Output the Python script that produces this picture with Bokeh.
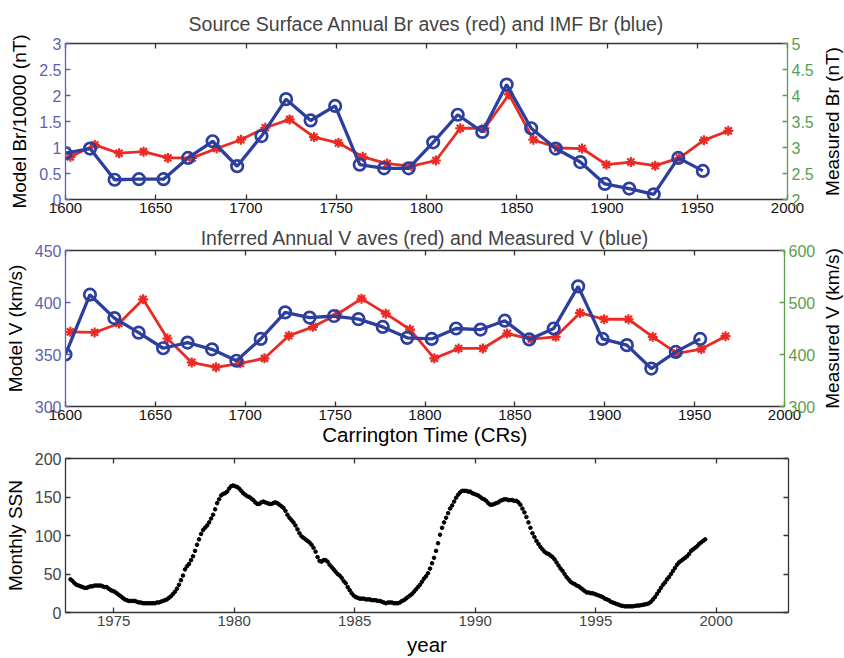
import math
from bokeh.plotting import figure
from bokeh.models import Range1d, LinearAxis, FixedTicker, CustomJSTickFormatter
from bokeh.layouts import column, row
from bokeh.embed import file_html
from bokeh.resources import INLINE

# ---------------- data ----------------
# Carrington rotation of each annual average
cr_model = [1602.7, 1616.2, 1629.7, 1643.2, 1656.7, 1670.2, 1683.7, 1697.2, 1710.7, 1724.2,
            1737.7, 1751.2, 1764.7, 1778.2, 1791.7, 1805.2, 1818.7, 1832.2, 1845.7, 1859.2,
            1872.7, 1886.2, 1899.7, 1913.2, 1926.7, 1940.2, 1953.7, 1967.2]
cr_meas = [1600.0, 1613.6, 1627.2, 1640.7, 1654.3, 1667.9, 1681.5, 1695.1, 1708.6, 1722.2,
           1735.8, 1749.4, 1763.0, 1776.5, 1790.1, 1803.7, 1817.3, 1830.9, 1844.4, 1858.0,
           1871.6, 1885.2, 1898.8, 1912.3, 1925.9, 1939.5, 1953.1]

# Model source-surface Br / 10000 (nT)  (red)
br_model = [0.82, 1.05, 0.89, 0.92, 0.80, 0.80, 0.98, 1.15, 1.38, 1.54,
            1.20, 1.09, 0.82, 0.69, 0.64, 0.75, 1.37, 1.37, 2.02, 1.15,
            0.99, 0.98, 0.67, 0.72, 0.65, 0.80, 1.14, 1.32]
# Measured IMF Br (nT)  (blue)
br_meas = [2.89, 2.98, 2.38, 2.39, 2.39, 2.80, 3.12, 2.64, 3.22, 3.93,
           3.52, 3.80, 2.67, 2.60, 2.60, 3.10, 3.63, 3.30, 4.21, 3.37,
           2.98, 2.72, 2.30, 2.21, 2.10, 2.80, 2.55]

# Inferred V (km/s)  (red)
v_model = [371.8, 371.2, 379.8, 403.1, 365.4, 342.4, 337.7, 341.5, 346.3, 368.0,
           376.6, 388.7, 403.7, 389.3, 374.0, 346.3, 355.8, 355.8, 370.2, 364.8,
           367.0, 390.0, 383.9, 383.9, 367.0, 351.1, 355.2, 367.6]
# Measured V (km/s)  (blue)
v_meas = [400, 515, 470, 442, 412, 423, 410, 388, 430, 481,
          471, 474, 468, 453, 432, 430, 450, 448, 465, 429,
          450, 531, 430, 418, 373, 405, 430]

# Monthly (smoothed) sunspot number, March 1973 .. July 1999
ssn_first_month = 1973 + 2 / 12
ssn_1973 = [43, 41, 38, 36, 35, 34, 33, 32, 32, 33]
ssn_1974 = [34, 34, 35, 35, 35, 35, 34, 33, 33, 31, 29, 28]
ssn_1975 = [27, 25, 23, 21, 19, 17, 16, 15, 15, 15, 15, 14]
ssn_1976 = [13, 13, 12, 12, 12, 12, 12, 12, 12, 13, 13, 14]
ssn_1977 = [15, 16, 17, 19, 21, 24, 27, 31, 36, 42, 48, 56]
ssn_1978 = [60, 63, 68, 73, 80, 88, 95, 102, 107, 110, 113, 117]
ssn_1979 = [122, 127, 134, 142, 147, 152, 154, 155, 157, 161, 164, 165]
ssn_1980 = [164, 163, 161, 158, 155, 153, 151, 150, 148, 146, 143, 141]
ssn_1981 = [141, 143, 144, 143, 142, 141, 141, 142, 143, 142, 140, 138]
ssn_1982 = [136, 132, 127, 123, 120, 117, 113, 108, 103, 99, 97, 95]
ssn_1983 = [93, 91, 88, 84, 79, 72, 67, 66, 68, 68, 66, 62]
ssn_1984 = [59, 56, 53, 50, 48, 45, 41, 38, 33, 29, 25, 22]
ssn_1985 = [20, 19, 18, 18, 18, 17, 17, 17, 16, 16, 16, 15]
ssn_1986 = [15, 14, 13, 12, 13, 13, 13, 12, 12, 12, 13, 15]
ssn_1987 = [16, 18, 20, 22, 24, 27, 30, 33, 36, 40, 44, 47]
ssn_1988 = [51, 57, 64, 71, 80, 90, 101, 110, 117, 123, 129, 135]
ssn_1989 = [139, 144, 149, 153, 156, 158, 158, 158, 157, 157, 155, 154]
ssn_1990 = [153, 152, 150, 148, 147, 145, 142, 140, 140, 141, 142, 143]
ssn_1991 = [145, 146, 147, 147, 146, 146, 146, 145, 145, 143, 140, 135]
ssn_1992 = [130, 124, 117, 110, 103, 98, 93, 89, 85, 82, 79, 77]
ssn_1993 = [76, 74, 72, 69, 65, 61, 57, 54, 50, 46, 43, 40]
ssn_1994 = [38, 37, 35, 34, 32, 30, 28, 26, 26, 25, 25, 24]
ssn_1995 = [23, 22, 21, 20, 18, 17, 16, 14, 13, 12, 11, 10]
ssn_1996 = [9, 8.5, 8, 8, 8, 8, 8, 8.5, 9, 9, 9.5, 10]
ssn_1997 = [10.5, 11, 12, 14, 17, 20, 24, 28, 32, 36, 39, 43]
ssn_1998 = [46, 50, 54, 58, 62, 65, 67, 69, 71, 73, 76, 80]
ssn_1999 = [82, 84, 86, 89, 91, 93, 95]

ssn = (ssn_1973 + ssn_1974 + ssn_1975 + ssn_1976 + ssn_1977 + ssn_1978 + ssn_1979 +
       ssn_1980 + ssn_1981 + ssn_1982 + ssn_1983 + ssn_1984 + ssn_1985 + ssn_1986 +
       ssn_1987 + ssn_1988 + ssn_1989 + ssn_1990 + ssn_1991 + ssn_1992 + ssn_1993 +
       ssn_1994 + ssn_1995 + ssn_1996 + ssn_1997 + ssn_1998 + ssn_1999)
ssn_year = [ssn_first_month + (i + 0.5) / 12 for i in range(len(ssn))]

cr_ticks = [1600, 1650, 1700, 1750, 1800, 1850, 1900, 1950, 2000]
year_ticks = [1975, 1980, 1985, 1990, 1995, 2000]
ssn_ticks = [0, 50, 100, 150, 200]

# ---------------- style ----------------
NARROW = "'Liberation Sans Narrow', 'Arial Narrow', 'Liberation Sans', sans-serif"
REG = "'Liberation Sans', Arial, sans-serif"
BLUE_AX = "#5f5fae"
GREEN_AX = "#5b9e4f"
RED = "#ea2b25"
BLUE = "#2c3f9f"
W = 844
SIDE_W = 26            # strip on the far right holding the right-hand axis title
FRAME_L = 65
FRAME_R = 57


def fmt():
    return CustomJSTickFormatter(code="return String(tick);")


def style_axis(ax, line_color, label_color, size="15px", font=REG, ticks=None):
    ax.axis_line_color = line_color
    ax.axis_line_width = 1.3
    ax.major_tick_line_color = line_color
    ax.major_tick_line_width = 1.3
    ax.major_tick_in = 5
    ax.major_tick_out = 0
    ax.minor_tick_line_color = None
    ax.major_label_text_color = label_color
    ax.major_label_text_font = font
    ax.major_label_text_font_size = size
    ax.major_label_standoff = 4
    ax.axis_label_text_font_style = "normal"
    ax.axis_label_text_color = "black"
    ax.axis_label_text_font = REG
    ax.axis_label_text_font_size = "19px"
    ax.axis_label_standoff = 6
    if ticks is not None:
        ax.ticker = FixedTicker(ticks=ticks)
    ax.formatter = fmt()


def ticks_only_axis(ax, ticks, color="#333333"):
    ax.ticker = FixedTicker(ticks=ticks)
    ax.axis_line_color = color
    ax.axis_line_width = 1.3
    ax.major_tick_line_color = color
    ax.major_tick_line_width = 1.3
    ax.major_tick_in = 5
    ax.major_tick_out = 0
    ax.minor_tick_line_color = None
    ax.major_label_text_color = None
    ax.major_label_text_font_size = "1px"
    ax.major_label_standoff = 0


def side_title(text, height):
    # a thin strip whose (left-side) axis title reads bottom-to-top, like MATLAB's
    s = figure(width=SIDE_W, height=height, x_range=Range1d(0, 1), y_range=Range1d(0, 1),
               output_backend="svg", toolbar_location=None, x_axis_location=None,
               min_border=0, title=None)
    s.grid.visible = False
    s.outline_line_color = None
    ax = s.yaxis[0]
    ax.ticker = FixedTicker(ticks=[])
    ax.axis_line_color = None
    ax.major_tick_line_color = None
    ax.minor_tick_line_color = None
    ax.major_label_text_color = None
    ax.major_label_text_font_size = "1px"
    ax.major_label_standoff = 0
    ax.axis_label = text
    ax.axis_label_standoff = 0
    ax.axis_label_text_font = REG
    ax.axis_label_text_font_size = "19px"
    ax.axis_label_text_font_style = "normal"
    ax.axis_label_text_color = "black"
    return s


def make_panel(height, yr, yr2, yticks, y2ticks, title, ylab, y2lab, mt, mb,
               title_standoff, xlab=None):
    p = figure(width=W - SIDE_W, height=height, x_range=Range1d(1600, 2000),
               y_range=Range1d(*yr), output_backend="svg", toolbar_location=None,
               min_border_left=FRAME_L, min_border_right=FRAME_R - SIDE_W,
               min_border_top=mt, min_border_bottom=mb)
    p.extra_y_ranges = {"meas": Range1d(*yr2)}
    p.xgrid.visible = False
    p.ygrid.visible = False
    p.outline_line_color = None
    p.title.text = title
    p.title.align = "center"
    p.title.text_font = NARROW
    p.title.text_font_size = "19.5px"
    p.title.text_font_style = "normal"
    p.title.standoff = title_standoff

    xax = p.xaxis[0]
    style_axis(xax, "#333333", "#111111", "15px", ticks=cr_ticks)
    xax.major_label_standoff = 3
    if xlab:
        xax.axis_label = xlab
        xax.axis_label_text_font = NARROW
        xax.axis_label_text_font_size = "20.5px"
        xax.axis_label_standoff = 0
    yax = p.yaxis[0]
    style_axis(yax, BLUE_AX, BLUE_AX, "16px", ticks=yticks)
    yax.axis_label = ylab

    rax = LinearAxis(y_range_name="meas")
    style_axis(rax, GREEN_AX, GREEN_AX, "16px", ticks=y2ticks)
    p.add_layout(rax, "right")

    tax = LinearAxis()
    ticks_only_axis(tax, cr_ticks)
    p.add_layout(tax, "above")

    side = side_title(y2lab, height)
    return p, row(p, side, spacing=0)


def draw_pair(p, model, meas):
    p.line(cr_model, model, line_color=RED, line_width=2.8)
    p.scatter(cr_model, model, marker="asterisk", size=10, line_color=RED, line_width=2.2)
    p.line(cr_meas, meas, y_range_name="meas", line_color=BLUE, line_width=3.3)
    p.scatter(cr_meas, meas, y_range_name="meas", marker="circle", size=11.5,
              line_color=BLUE, line_width=2.7, fill_color=None)


# heights: 219 + 231 + 208 = 658
p1, row1 = make_panel(219, (0, 3), (2, 5), [0, 0.5, 1, 1.5, 2, 2.5, 3],
                      [2, 2.5, 3, 3.5, 4, 4.5, 5],
                      "Source Surface Annual Br aves (red) and IMF Br (blue)",
                      "Model Br/10000 (nT)", "Measured Br (nT)", 43, 20, 17)
draw_pair(p1, br_model, br_meas)

p2, row2 = make_panel(231, (300, 450), (300, 600), [300, 350, 400, 450], [300, 400, 500, 600],
                      "Inferred Annual V aves (red) and Measured V (blue)",
                      "Model V (km/s)", "Measured V (km/s)", 31, 44, 4,
                      xlab="Carrington Time (CRs)")
draw_pair(p2, v_model, v_meas)

# bottom panel
p3 = figure(width=W, height=208, x_range=Range1d(1973, 2003), y_range=Range1d(0, 200),
            output_backend="svg", toolbar_location=None,
            min_border_left=FRAME_L, min_border_right=FRAME_R - 1,
            min_border_top=8, min_border_bottom=45)
p3.xgrid.visible = False
p3.ygrid.visible = False
p3.outline_line_color = None
x3 = p3.xaxis[0]
style_axis(x3, "#333333", "#444444", "15px", font=NARROW, ticks=year_ticks)
x3.major_label_standoff = 3
x3.axis_label = "year"
x3.axis_label_text_font = NARROW
x3.axis_label_text_font_size = "20.5px"
x3.axis_label_standoff = 4
y3 = p3.yaxis[0]
style_axis(y3, "#333333", "#444444", "16px", font=NARROW, ticks=ssn_ticks)
y3.axis_label = "Monthly SSN"
t3 = LinearAxis()
ticks_only_axis(t3, year_ticks)
p3.add_layout(t3, "above")
r3 = LinearAxis()
ticks_only_axis(r3, ssn_ticks)
p3.add_layout(r3, "right")
p3.scatter(ssn_year, ssn, marker="circle", size=3.6, fill_color="black", line_color="black")

layout = column(row1, row2, p3, spacing=0)
open("out.html", "w").write(file_html(layout, INLINE))
